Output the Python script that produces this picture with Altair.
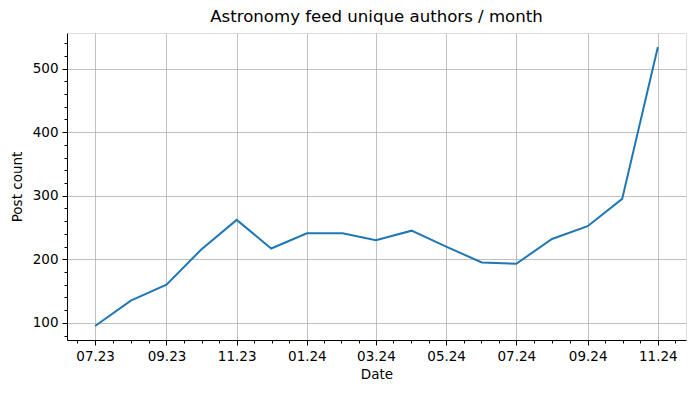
import altair as alt
import pandas as pd

months = ["2023-07-01", "2023-08-01", "2023-09-01", "2023-10-01", "2023-11-01", "2023-12-01",
          "2024-01-01", "2024-02-01", "2024-03-01", "2024-04-01", "2024-05-01", "2024-06-01",
          "2024-07-01", "2024-08-01", "2024-09-01", "2024-10-01", "2024-11-01"]
counts = [95, 135, 160, 215, 262, 217, 241, 241, 230, 245, 220, 195, 193, 232, 252, 295, 534]
major_ticks = ["2023-07-01", "2023-09-01", "2023-11-01", "2024-01-01", "2024-03-01",
               "2024-05-01", "2024-07-01", "2024-09-01", "2024-11-01"]
y_major = [100, 200, 300, 400, 500]

df = pd.DataFrame({"date": pd.to_datetime(months), "count": counts})

def ms(ts):
    return int(pd.Timestamp(ts).value // 10**6)

t0, t1 = ms(months[0]), ms(months[-1])
xpad = 0.05 * (t1 - t0)
x_domain = [t0 - xpad, t1 + xpad]
ymin, ymax = min(counts), max(counts)
ypad = 0.05 * (ymax - ymin)
y_domain = [ymin - ypad, ymax + ypad]

maj = [ms(m) for m in major_ticks]
minor = []
step0 = (maj[1] - maj[0]) / 4
minor.append(maj[0] - step0)
for a, b in zip(maj[:-1], maj[1:]):
    s = (b - a) / 4
    minor += [a + s, a + 2 * s, a + 3 * s]
minor.append(maj[-1] + (maj[-1] - maj[-2]) / 4)
y_minor = [v for v in range(80, 560, 20) if v % 100 != 0]

FONT = "DejaVu Sans"
xscale = alt.Scale(type="utc", domain=x_domain, nice=False)
yscale = alt.Scale(domain=y_domain, nice=False, zero=False)

line = alt.Chart(df).mark_line(color="#1f77b4", strokeWidth=2).encode(
    x=alt.X("date:T", scale=xscale, title="Date",
            axis=alt.Axis(values=maj, format="%m.%y", grid=True,
                          gridColor="#b0b0b0", gridWidth=0.8, tickSize=5,
                          labelPadding=4, titlePadding=5, orient="bottom", labelFlush=False)),
    y=alt.Y("count:Q", scale=yscale, title="Post count",
            axis=alt.Axis(values=y_major, grid=True, gridColor="#b0b0b0", gridWidth=0.8,
                          tickSize=5, labelPadding=4, titlePadding=8, orient="left",
                          labelFlush=False)),
)

minor_layer = alt.Chart(df).mark_line(opacity=0).encode(
    x=alt.X("date:T", scale=xscale, title=None,
            axis=alt.Axis(values=minor, labels=False, grid=False, tickSize=3,
                          domain=False, orient="bottom")),
    y=alt.Y("count:Q", scale=yscale, title=None,
            axis=alt.Axis(values=y_minor, labels=False, grid=False, tickSize=3,
                          domain=False, orient="left")),
)

chart = alt.layer(line, minor_layer).resolve_axis(x="independent", y="independent").properties(
    width=619, height=307,
    title=alt.Title("Astronomy feed unique authors / month", font=FONT, fontSize=16.6,
                    fontWeight="normal", color="black", offset=7),
    autosize=alt.AutoSizeParams(type="none"),
    padding={"left": 59, "top": 25, "right": 1, "bottom": 45},
).configure_view(stroke="black", strokeWidth=1).configure(background="white").configure_axis(
    labelFont=FONT, labelFontSize=13.5, labelColor="black",
    titleFont=FONT, titleFontSize=13.5, titleFontWeight="normal", titleColor="black",
    tickColor="black", domainColor="black",
)

chart.save("out.html", embed_options={"renderer": "svg", "actions": False})
